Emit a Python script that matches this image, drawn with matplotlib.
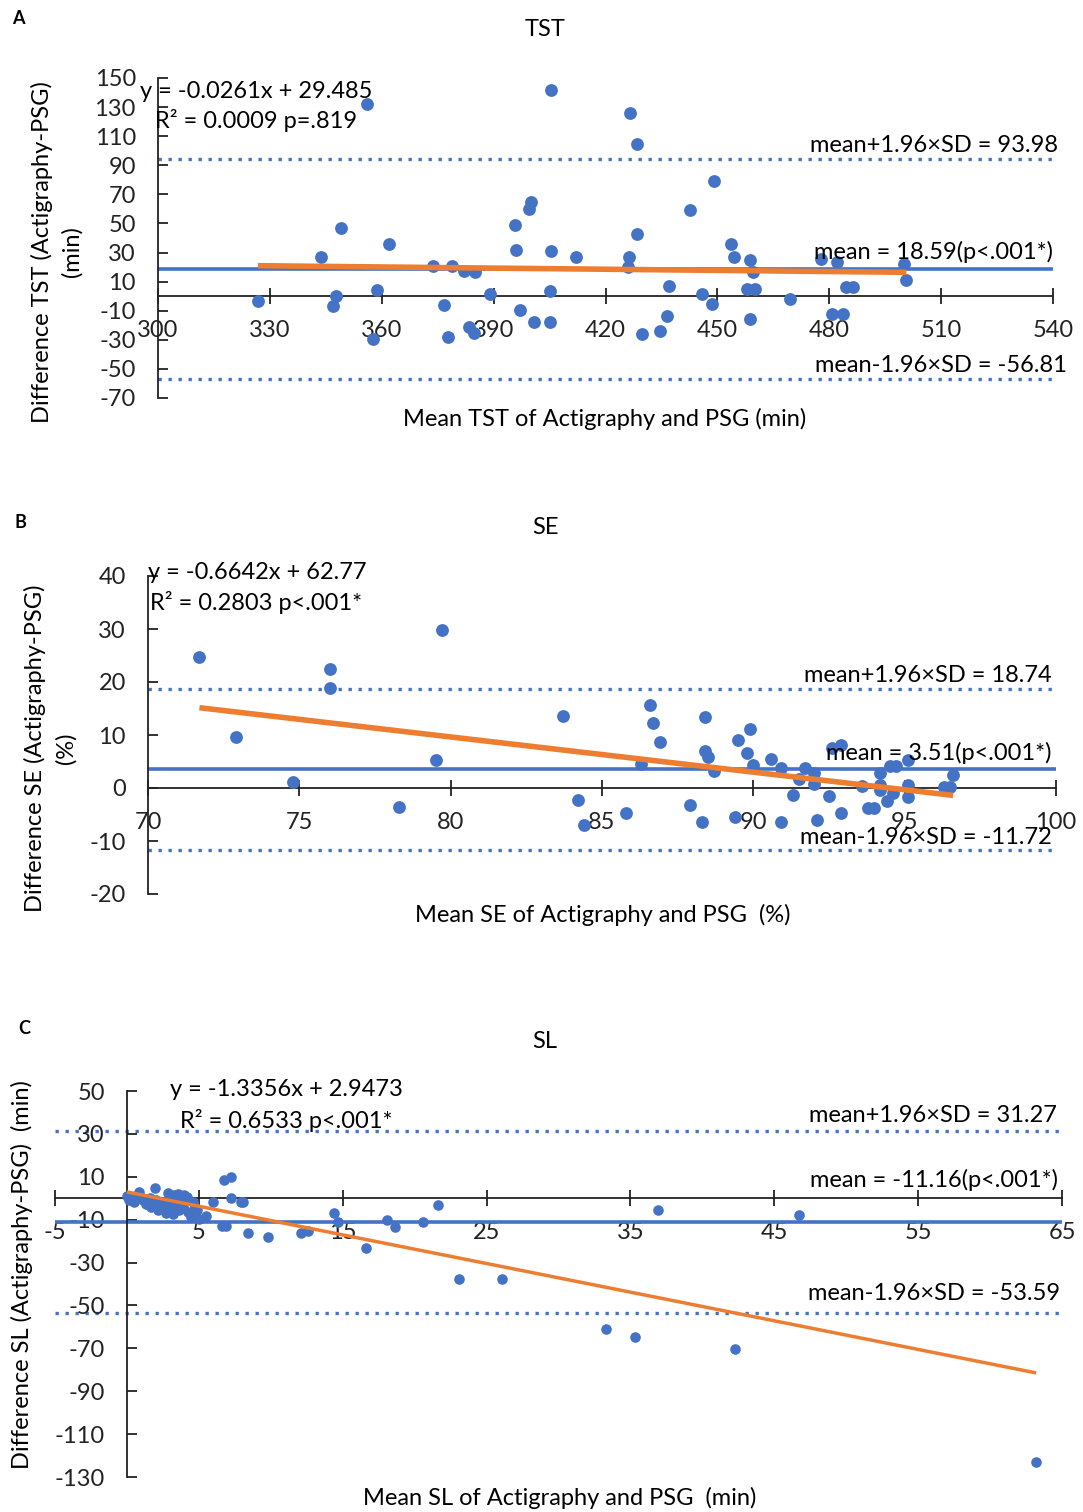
import numpy as np
import matplotlib.pyplot as plt

plt.rcParams['font.family'] = ['Lato', 'DejaVu Sans']
plt.rcParams['axes.unicode_minus'] = False

# ---------------- A: TST ----------------
tst_x = [326.8, 356.1, 405.5, 343.8, 349.2, 347.8, 346.9, 358.8, 357.7, 361.9,
         373.8, 376.6, 377.8, 378.9, 382.0, 384.9, 383.3, 384.7, 388.9, 395.6,
         396.0, 399.6, 400.0, 397.2, 400.7, 405.0, 405.1, 405.5, 412.2, 426.7,
         428.4, 428.4, 426.4, 426.0, 429.9, 434.7, 436.6, 437.1, 442.6, 445.8,
         448.5, 449.0, 453.7, 454.5, 458.8, 459.5, 458.0, 460.1, 458.8, 469.5,
         477.8, 482.2, 480.7, 483.8, 484.5, 486.5, 500.0, 500.7]
tst_y = [-3.5, 132.4, 141.5, 26.7, 47.1, 0.4, -6.7, 4.5, -29.2, 35.9,
         21.0, -5.8, -28.0, 21.0, 17.5, 16.4, -21.0, -25.5, 1.3, 49.0,
         31.8, 60.2, 64.5, -9.7, -18.0, -18.0, 3.6, 30.9, 26.7, 126.2,
         104.8, 43.0, 26.7, 19.9, -26.0, -24.2, -13.8, 7.2, 59.3, 1.3,
         -5.6, 79.4, 35.9, 26.7, 24.7, 16.4, 5.2, 5.2, -15.9, -1.7,
         25.6, 23.7, -12.0, -12.0, 6.1, 6.1, 21.9, 11.4]
tst_fit = (-0.0261, 29.485)
tst_mean, tst_upper, tst_lower = 18.59, 93.98, -56.81

# ---------------- B: SE ----------------
se_x = [71.7, 72.9, 74.8, 76.0, 76.0, 78.3, 79.7, 79.5, 83.7, 84.2,
        84.4, 85.8, 86.3, 86.6, 86.7, 86.9, 87.9, 88.3, 88.4, 88.4,
        88.5, 88.7, 89.4, 89.5, 89.9, 89.8, 90.0, 90.6, 90.9, 90.9,
        91.3, 91.5, 91.7, 92.0, 92.0, 92.1, 92.5, 92.6, 92.9, 92.9,
        93.6, 93.8, 94.0, 94.2, 94.2, 94.2, 94.4, 94.5, 94.7, 94.6,
        95.1, 95.1, 95.1, 96.3, 96.5, 96.6]
se_y = [24.7, 9.7, 1.1, 22.5, 18.8, -3.5, 29.8, 5.2, 13.5, -2.3,
        -7.0, -4.7, 4.5, 15.7, 12.3, 8.7, -3.2, -6.4, 13.4, 7.0,
        5.8, 3.3, -5.5, 9.1, 11.1, 6.6, 4.4, 5.5, 3.8, -6.4,
        -1.3, 1.7, 3.8, 2.8, 0.7, -6.0, -1.5, 7.5, 8.2, -4.8,
        0.4, -3.7, -3.7, 2.9, 0.6, -0.3, -2.4, 4.1, 4.1, -0.9,
        5.3, 0.6, -1.7, 0.2, 0.2, 2.4]
se_fit = (-0.6642, 62.77)
se_mean, se_upper, se_lower = 3.51, 18.74, -11.72

# ---------------- C: SL ----------------
sl_x = [0.0, 0.17, 0.47, 0.82, 1.1, 1.34, 1.69, 1.92, 2.03, 2.26,
        2.5, 2.84, 2.9, 3.07, 3.3, 3.53, 3.42, 3.76, 3.88, 4.11,
        4.22, 4.57, 4.75, 4.45, 5.03, 5.5, 4.9, 0.65, 1.57, 2.6,
        3.07, 2.15, 2.73, 3.18, 3.65, 4.0, 4.2,
        5.96, 6.76, 7.2, 7.2, 7.9, 8.1, 6.6, 6.9, 8.4, 9.8,
        12.1, 12.6, 14.4, 14.7, 16.6, 18.1, 18.6, 20.6, 21.6, 23.1,
        26.1, 36.9, 46.7, 33.3, 35.3, 42.3, 63.2]
sl_y = [0.9, -0.6, -1.6, 2.9, -0.9, -2.5, -4.0, 4.8, -0.9, -3.3,
        -4.8, 2.5, -2.5, -5.6, 1.4, 2.2, -4.0, -0.2, -4.0, -1.0,
        -6.4, -1.7, -4.0, -8.7, -9.5, -8.4, -5.6, 0.9, 0.3, -1.7,
        -0.6, -5.4, -7.0, -7.3, -5.6, 1.4, 0.5,
        -1.7, 8.4, 9.9, 0.3, -1.7, -1.7, -12.9, -12.9, -16.4, -18.0,
        -16.4, -15.2, -6.7, -11.0, -23.4, -10.2, -13.3, -11.0, -3.3, -37.8,
        -37.8, -5.6, -7.6, -60.9, -64.8, -70.4, -123.1]
sl_fit = (-1.3356, 2.9473)
sl_mean, sl_upper, sl_lower = -11.16, 31.27, -53.59

BLUE = '#4472C4'
ORANGE = '#ED7D31'
W, H = 1083, 1512
FS = 17

fig = plt.figure(figsize=(W / 100, H / 100), dpi=100)


def px_axes(l, t, r, b):
    return fig.add_axes([l / W, 1 - b / H, (r - l) / W, (b - t) / H])


def ftext(x, y, s, **kw):
    kw.setdefault('fontsize', FS)
    kw.setdefault('va', 'center')
    fig.text(x / W, 1 - y / H, s, **kw)


def panel(ax, x, y, fit, mean, upper, lower, xlim, ylim, xticks, yticks,
          ms, fitlw, yaxis_at=None):
    ax.set_xlim(xlim)
    ax.set_ylim(ylim)
    ax.axhline(upper, color=BLUE, lw=2.4, ls=(0, (1, 2)), zorder=1)
    ax.axhline(lower, color=BLUE, lw=2.4, ls=(0, (1, 2)), zorder=1)
    ax.axhline(mean, color=BLUE, lw=2.6, zorder=2)
    ax.scatter(x, y, s=ms, color=BLUE, zorder=3, linewidths=0)
    xs = np.array([min(x), max(x)])
    ax.plot(xs, fit[0] * xs + fit[1], color=ORANGE, lw=fitlw, zorder=4,
            solid_capstyle='butt')
    ax.set_xticks(xticks)
    ax.set_yticks(yticks)
    for s in ['top', 'right']:
        ax.spines[s].set_visible(False)
    ax.spines['bottom'].set_position(('data', 0))
    if yaxis_at is not None:
        ax.spines['left'].set_position(('data', yaxis_at))
    for s in ['bottom', 'left']:
        ax.spines[s].set_linewidth(1.3)
        ax.spines[s].set_color('#222222')
    ax.tick_params(axis='x', direction='inout', length=12, width=1.3,
                   pad=11, labelsize=FS, colors='#222222')
    ax.tick_params(axis='y', direction='in', length=7, width=1.3,
                   pad=16, labelsize=FS, colors='#222222')
    ax.patch.set_alpha(0)


# A
axA = px_axes(158, 78, 1053, 398)
panel(axA, tst_x, tst_y, tst_fit, tst_mean, tst_upper, tst_lower,
      (300, 540), (-70, 150), np.arange(300, 541, 30), np.arange(-70, 151, 20),
      85, 4)
ftext(18, 18, 'A', fontsize=13, fontweight='bold', ha='center')
ftext(545, 30, 'TST', ha='center')
ftext(42, 252, 'Difference TST (Actigraphy-PSG)', rotation=90, ha='center')
ftext(72, 252, '(min)', rotation=90, ha='center')
ftext(605, 419, 'Mean TST of Actigraphy and PSG (min)', ha='center')
ftext(140, 91, 'y = -0.0261x + 29.485', ha='left')
ftext(155, 121, 'R² = 0.0009 p=.819', ha='left')
ftext(1058, 146, 'mean+1.96×SD = 93.98', ha='right')
ftext(1053, 252, 'mean = 18.59(p<.001*)', ha='right')
ftext(1067, 365, 'mean-1.96×SD = -56.81', ha='right')

# B
axB = px_axes(148, 576, 1056, 894)
panel(axB, se_x, se_y, se_fit, se_mean, se_upper, se_lower,
      (70, 100), (-20, 40), np.arange(70, 101, 5), np.arange(-20, 41, 10),
      85, 4)
ftext(20, 522, 'B', fontsize=13, fontweight='bold', ha='center')
ftext(545, 528, 'SE', ha='center')
ftext(35, 748, 'Difference SE (Actigraphy-PSG)', rotation=90, ha='center')
ftext(66, 748, '(%)', rotation=90, ha='center')
ftext(603, 915, 'Mean SE of Actigraphy and PSG  (%)', ha='center')
ftext(148, 572, 'y = -0.6642x + 62.77', ha='left')
ftext(150, 603, 'R² = 0.2803 p<.001*', ha='left')
ftext(1052, 676, 'mean+1.96×SD = 18.74', ha='right')
ftext(1052, 753, 'mean = 3.51(p<.001*)', ha='right')
ftext(1052, 838, 'mean-1.96×SD = -11.72', ha='right')

# C
axC = px_axes(55, 1091, 1062, 1477)
panel(axC, sl_x, sl_y, sl_fit, sl_mean, sl_upper, sl_lower,
      (-5, 65), (-130, 50), np.arange(-5, 66, 10), np.arange(-130, 51, 20),
      58, 2.5, yaxis_at=0)
ftext(24, 1028, 'C', fontsize=13, fontweight='bold', ha='center')
ftext(545, 1042, 'SL', ha='center')
ftext(22, 1275, 'Difference SL (Actigraphy-PSG)  (min)', rotation=90,
      ha='center')
ftext(560, 1498, 'Mean SL of Actigraphy and PSG  (min)', ha='center')
ftext(286, 1090, 'y = -1.3356x + 2.9473', ha='center')
ftext(286, 1121, 'R² = 0.6533 p<.001*', ha='center')
ftext(1057, 1115, 'mean+1.96×SD = 31.27', ha='right')
ftext(1058, 1180, 'mean = -11.16(p<.001*)', ha='right')
ftext(1060, 1294, 'mean-1.96×SD = -53.59', ha='right')

fig.savefig('out.png', dpi=100)
